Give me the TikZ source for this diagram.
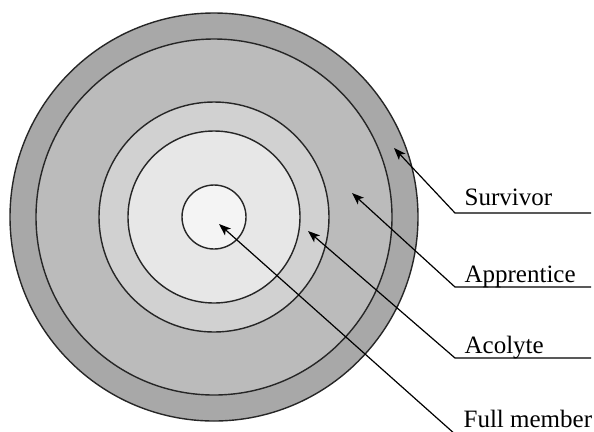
\documentclass[tikz,border=0pt]{standalone}
\usepackage{fontspec}
\setmainfont{Liberation Serif}
\usetikzlibrary{arrows.meta}
\tikzset{
every picture/.style={
line width=1.2bp
}}
\definecolor{survivorgray}{gray}{0.66}
\definecolor{apprenticegray}{gray}{0.735}
\definecolor{acolytegray}{gray}{0.82}
\definecolor{innergray}{gray}{0.905}
\definecolor{membergray}{gray}{0.955}

\begin{document}
\begin{tikzpicture}[x=1bp, y=-1bp,
  ring/.style={draw=black!85, line width=1.4bp},
  pointer/.style={-{Stealth[length=12bp, width=9bp, inset=3bp]}, line width=1.2bp},
  lbl/.style={anchor=base west, inner sep=0pt, font=\fontsize{25bp}{30bp}\selectfont}]
  \useasboundingbox (0,0) rectangle (594,431);
  \coordinate (c) at (214,217);
  \foreach \r/\col in {204/survivorgray, 178/apprenticegray, 115/acolytegray, 86/innergray, 32/membergray}{
    \filldraw[ring, fill=\col] (c) circle[radius=\r];
  }

  \foreach \name/\txt/\tx/\ty/\ly/\by in {surv/Survivor/394/148/213/205, appr/Apprentice/352/193/287/282, acol/Acolyte/308/231/358/353}{
    \coordinate (tip-\name) at (\tx,\ty);
    \coordinate (bend-\name) at (455,\ly);
    \coordinate (end-\name) at (591,\ly);
    \node[lbl] (\name) at (464,\by) {\txt};
    \draw[pointer] (end-\name) -- (bend-\name) -- (tip-\name);
  }

  \coordinate (tip-full) at (219,224);
  \coordinate (bend-full) at (456,435);
  \node[lbl] (full) at (463,427) {Full member};
  \draw[pointer] (bend-full) -- (tip-full);
\end{tikzpicture}
\end{document}
